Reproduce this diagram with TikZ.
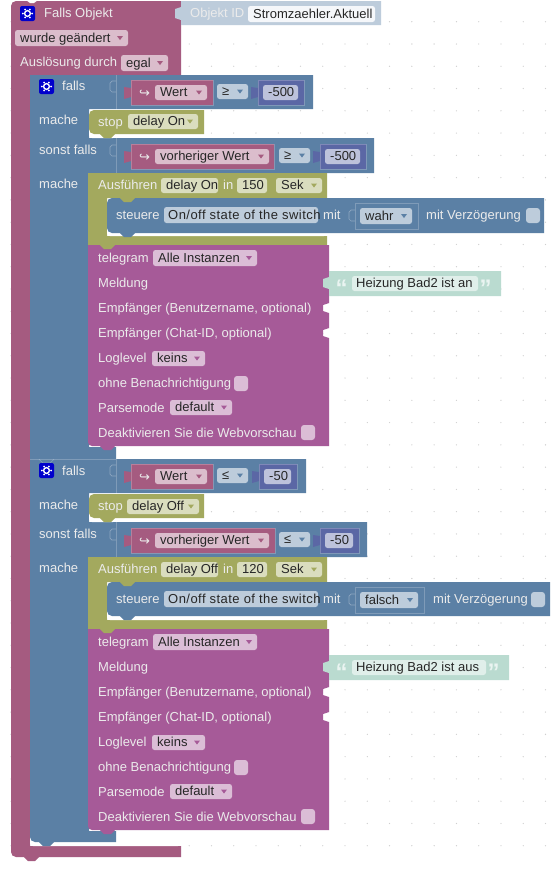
\documentclass[tikz,border=0pt]{standalone}
\usepackage{fontspec}
\setmainfont{Liberation Sans}
\newfontfamily\symfont{DejaVu Sans}
\newfontfamily\widefont[LetterSpace=3.5]{Liberation Sans}
\definecolor{hatc}{HTML}{A55B80}
\definecolor{ifc}{HTML}{5B80A5}
\definecolor{olivec}{HTML}{A3A95E}
\definecolor{purpc}{HTML}{A65A98}
\definecolor{objc}{HTML}{BDCCDB}
\definecolor{txtc}{HTML}{BADBD0}
\definecolor{numc}{HTML}{5B67A5}
\definecolor{gridc}{HTML}{CFCFCF}
\tikzset{
  x=1pt,y=-1pt,
  lbl/.style={anchor=mid west,inner sep=0pt,yshift=-1.5pt,text=white!92!black,font=\fontsize{13}{15}\selectfont},
  val/.style={anchor=mid west,inner sep=0pt,yshift=-1.8pt,text=black!85,font=\fontsize{13}{15}\selectfont},
  edge/.style={draw=white,draw opacity=.22,line width=.7pt},
}
% label
\newcommand{\Lb}[4]{\node[lbl] (#1) at (#2,#3) {#4};}
% plain field: name x1 y1 x2 y2 colour text
\newcommand{\Fd}[7]{\fill[#6!40!white,rounded corners=2.5] (#2,#3) rectangle (#4,#5);
  \node[val] (#1) at ({#2+5},{(#3+#5)/2}) {#7};}
% dropdown field
\newcommand{\Dd}[7]{\Fd{#1}{#2}{#3}{#4}{#5}{#6}{#7}
  \fill[#6] ({#4-11},{(#3+#5)/2-2}) -- ({#4-5},{(#3+#5)/2-2}) -- ({#4-8},{(#3+#5)/2+2}) -- cycle;}
% checkbox
\newcommand{\Cb}[4]{\fill[#4!40!white,rounded corners=3] (#1,#2) rectangle ({#1+14},{#2+15});}
% bottom connector tab
\newcommand{\Tab}[3]{\fill[#3] (#1,#2) -- ({#1+4},{#2+4}) -- ({#1+11},{#2+4}) -- ({#1+15},#2) -- cycle;}
% value input socket at x,y
\newcommand{\Sock}[2]{\draw[white,opacity=.3,line width=.7pt] (#1,{#2-5}) -- ({#1-4},{#2-5}) -- ({#1-6},{#2-3}) -- ({#1-6},{#2+4}) -- ({#1-4},{#2+6}) -- (#1,{#2+6});}
% value block with left tab: x1 y1 x2 y2 colour
\newcommand{\Vb}[5]{\fill[#5] (#1,#2) -- (#3,#2) -- (#3,#4) -- (#1,#4) -- (#1,{#2+17}) -- ({#1-7},{#2+19}) -- ({#1-7},{#2+7}) -- (#1,{#2+8}) -- cycle;
  \draw[edge] (#1,#2) rectangle (#3,#4);}
% gear icon
\newcommand{\Gear}[2]{\fill[blue!80!black,rounded corners=2] (#1,#2) rectangle ({#1+15},{#2+15});
  \draw[white,line width=1.4pt] ({#1+7.5},{#2+7.5}) circle (2.9);
  \foreach \a in {0,60,...,300}{\fill[white] ({#1+7.5+4.6*cos(\a)},{#2+7.5+4.6*sin(\a)}) circle (1);}}
% comparison row
\newcommand{\CmpRow}[9]{%
  \pgfmathtruncatemacro{\ya}{#1+25}\pgfmathtruncatemacro{\yb}{#1+5}\pgfmathtruncatemacro{\yc}{#1+20}%
  \pgfmathtruncatemacro{\yd}{#1+4}\pgfmathtruncatemacro{\ye}{#1+19}\pgfmathtruncatemacro{\yf}{#1+13}%
  \pgfmathtruncatemacro{\xa}{#4+31}\pgfmathtruncatemacro{\xb}{#6+5}\pgfmathtruncatemacro{\xc}{#7-6}%
  \Vb{131}{#1}{#2}{\ya}{hatc}
  \node[lbl,font=\symfont\fontsize{13}{15}\selectfont] (arr#1) at (139,\yf) {↪};
  \Dd{wf#1}{155}{\yb}{#3}{\yc}{hatc}{#9}
  \Dd{cf#1}{#4}{\yd}{\xa}{\ye}{ifc}{#5}
  \Vb{#6}{#1}{#7}{\ya}{numc}
  \Fd{nf#1}{\xb}{\yb}{\xc}{\yc}{numc}{#8}}
% telegram group (y offset by scope)
\newcommand{\TgBlock}[2]{%
  \fill[purpc] (88,245) -- (329,245) -- (329,303) -- (323,305) -- (323,311) -- (329,313) -- (329,328) -- (323,330) -- (323,336) -- (329,338) -- (329,446) [rounded corners=4] -- (88,446) [sharp corners] -- cycle;
  \Tab{100}{446}{purpc}
  \Lb{tg}{98}{258}{telegram}
  \Dd{inst}{153}{250}{257}{266}{purpc}{Alle Instanzen}
  \Lb{mel}{98}{283}{Meldung}
  \Lb{emp}{98}{308}{Empfänger (Benutzername, optional)}
  \Lb{cid}{98}{333}{Empfänger (Chat-ID, optional)}
  \Lb{log}{98}{358}{Loglevel}
  \Dd{kei}{152}{351}{205}{366}{purpc}{keins}
  \Lb{ohn}{98}{383}{ohne Benachrichtigung}
  \Cb{234}{376}{}{purpc}
  \Lb{par}{98}{408}{Parsemode}
  \Dd{def}{170}{400}{232}{415}{purpc}{default}
  \Lb{dea}{98}{433}{Deaktivieren Sie die Webvorschau}
  \Cb{301}{425}{}{purpc}
  \fill[txtc] (329,271) -- (#1,271) -- (#1,296) -- (329,296) -- (329,289) -- (323,287) -- (323,279) -- (329,277) -- cycle;
  \fill[txtc!45!white,rounded corners=2.5] (352,276) rectangle ({#1-23},291);
  \node[val] (msg) at (356,283.5) {#2};
  \node[lbl,font=\bfseries\fontsize{24}{24}\selectfont,text=white!70!txtc] (qo) at (335.5,292) {“};
  \node[lbl,font=\bfseries\fontsize{24}{24}\selectfont,text=white!70!txtc] (qc) at ({#1-21.5},292) {”};
}
\begin{document}
\begin{tikzpicture}
\path[use as bounding box,fill=white] (0,0) rectangle (556,871);
\foreach \i in {0,...,24}\foreach \j in {-1,...,36}{
  \fill[gridc] ({11+22.27*\i},{44+22.27*\j}) circle (.65);}
% ---- outer trigger block
\fill[hatc,rounded corners=5] (11,1) [sharp corners] -- (181,1) -- (181,75) -- (30,75) -- (30,846) -- (181,846) -- (181,857) [rounded corners=5] -- (11,857) -- cycle;
\Tab{24}{857}{hatc}
\fill[white] (26,0) -- (30,3) -- (34,3) -- (38,0) -- cycle;
\Gear{20}{6}
\Lb{fo}{44}{13}{Falls Objekt}
\Dd{wg}{15}{30}{128}{46}{hatc}{wurde geändert}
\Lb{ad}{20}{62}{Auslösung durch}
\Dd{eg}{121}{55}{168}{71}{hatc}{egal}
% object id
\fill[objc] (181,1) -- (381,1) -- (381,25) -- (181,25) -- (181,20) -- (175,18) -- (175,9) -- (181,7) -- cycle;
\Lb{oid}{190}{13}{Objekt ID}
\fill[white!85!objc,rounded corners=2.5] (248,6) rectangle (375,22);
\node[val] (oidf) at (253,14) {Stromzaehler.Aktuell};
% white strip under inner block
\fill[white,rounded corners=3] (30,836) rectangle (181,846);
% ---- if 1
\fill[ifc,rounded corners=5] (30,75) [sharp corners] -- (313,75) -- (313,109) -- (89,109) -- (89,138) -- (374,138) -- (374,173) -- (89,173) -- (89,447) -- (116,447) -- (116,459) -- (30,459) -- cycle;
\draw[edge] (116,75) -- (116,138);
\draw[edge] (116,138) -- (116,173);
\Sock{116}{86}\Sock{116}{150}
\Gear{39}{79}
\Lb{f1}{62}{86}{falls}
\Lb{m1}{39}{120}{mache}
\Lb{s1}{39}{150}{sonst falls}
\Lb{m2}{39}{184}{mache}
\CmpRow{80}{213}{207}{217}{≥}{258}{304}{-500}{Wert}
\CmpRow{144}{274}{269}{279}{≥}{320}{366}{-500}{vorheriger Wert}
% stop 1
\fill[white,rounded corners=3] (89,126) rectangle (116,138);
\fill[olivec,rounded corners=5] (89,110) [sharp corners] -- (204,110) -- (204,134) [rounded corners=5] -- (89,134) -- cycle;
\Tab{100}{134}{olivec}
\Lb{st1}{98}{122}{stop}
\Dd{sf1}{128}{114}{198}{129}{olivec}{delay On}
% execute 1
\fill[olivec,rounded corners=5] (88,173) [sharp corners] -- (327,173) -- (327,198) -- (107,198) -- (107,236) -- (327,236) -- (327,245) -- (88,245) -- cycle;
\Lb{au1}{98}{185}{Ausführen}
\Fd{de1}{161}{178}{218}{193}{olivec}{delay On}
\Lb{in1}{223}{185}{in}
\Fd{va1}{237}{178}{267}{193}{olivec}{150}
\Dd{se1}{276}{178}{322}{193}{olivec}{Sek}
\fill[white,rounded corners=3] (107,226) rectangle (327,236);
\fill[ifc,rounded corners=5] (107,198) [sharp corners] -- (544,198) -- (544,233) [rounded corners=5] -- (107,233) -- cycle;
\Tab{120}{233}{ifc}
\Tab{120}{198}{olivec}
\Lb{sr1}{116}{215}{steuere}
\fill[objc,rounded corners=2.5] (164,207) rectangle (318,223);
\node[val,font=\widefont\fontsize{13}{15}\selectfont] (sw1) at (168,215) {On/off state of the switch};
\Lb{mi1}{323}{215}{mit}
\Sock{355}{215}
\draw[edge] (355,203) rectangle (418,229);
\Dd{wa1}{360}{208}{412}{224}{ifc}{wahr}
\Lb{mv1}{426}{215}{mit Verzögerung}
\Cb{526}{208}{}{ifc}
\begin{scope}[name prefix=a-]
\TgBlock{501}{Heizung Bad2 ist an}
\end{scope}
\Tab{100}{245}{olivec}
% ---- if 2
\fill[ifc] (30,459) -- (306,459) -- (306,493) -- (89,493) -- (89,522) -- (367,522) -- (367,557) -- (89,557) -- (89,831) -- (116,831) -- (116,842) [rounded corners=5] -- (30,842) [sharp corners] -- cycle;
\draw[edge] (30,459) -- (116,459);
\draw[edge] (116,459) -- (116,557);
\Tab{39}{842}{ifc}
\draw[edge] (39,459) -- (43,463) -- (50,463) -- (54,459);
\Sock{116}{470}\Sock{116}{534}
\Gear{39}{463}
\Lb{f2}{62}{471}{falls}
\Lb{m3}{39}{505}{mache}
\Lb{s2}{39}{534}{sonst falls}
\Lb{m4}{39}{568}{mache}
\CmpRow{464}{213}{207}{217}{≤}{259}{297}{-50}{Wert}
\CmpRow{528}{275}{269}{279}{≤}{320}{359}{-50}{vorheriger Wert}
\fill[white,rounded corners=3] (89,510) rectangle (116,522);
\fill[olivec,rounded corners=5] (89,494) [sharp corners] -- (204,494) -- (204,518) [rounded corners=5] -- (89,518) -- cycle;
\Tab{100}{518}{olivec}
\Lb{st2}{98}{506}{stop}
\Dd{sf2}{127}{499}{199}{514}{olivec}{delay Off}
\fill[olivec,rounded corners=5] (88,557) [sharp corners] -- (327,557) -- (327,582) -- (107,582) -- (107,620) -- (327,620) -- (327,629) -- (88,629) -- cycle;
\Lb{au2}{98}{569}{Ausführen}
\Fd{de2}{161}{562}{218}{577}{olivec}{delay Off}
\Lb{in2}{223}{569}{in}
\Fd{va2}{237}{562}{267}{577}{olivec}{120}
\Dd{se2}{276}{562}{322}{577}{olivec}{Sek}
\fill[white,rounded corners=3] (107,610) rectangle (327,620);
\fill[ifc,rounded corners=5] (107,582) [sharp corners] -- (550,582) -- (550,616) [rounded corners=5] -- (107,616) -- cycle;
\Tab{120}{616}{ifc}
\Tab{120}{582}{olivec}
\Lb{sr2}{116}{599}{steuere}
\fill[objc,rounded corners=2.5] (164,591) rectangle (318,607);
\node[val,font=\widefont\fontsize{13}{15}\selectfont] (sw2) at (168,599) {On/off state of the switch};
\Lb{mi2}{323}{599}{mit}
\Sock{355}{599}
\draw[edge] (355,587) rectangle (424,613);
\Dd{fa2}{360}{592}{418}{608}{ifc}{falsch}
\Lb{mv2}{433}{599}{mit Verzögerung}
\Cb{531}{592}{}{ifc}
\begin{scope}[shift={(0,384)},name prefix=b-]
\TgBlock{509}{Heizung Bad2 ist aus}
\end{scope}
\Tab{100}{629}{olivec}
\end{tikzpicture}
\end{document}
